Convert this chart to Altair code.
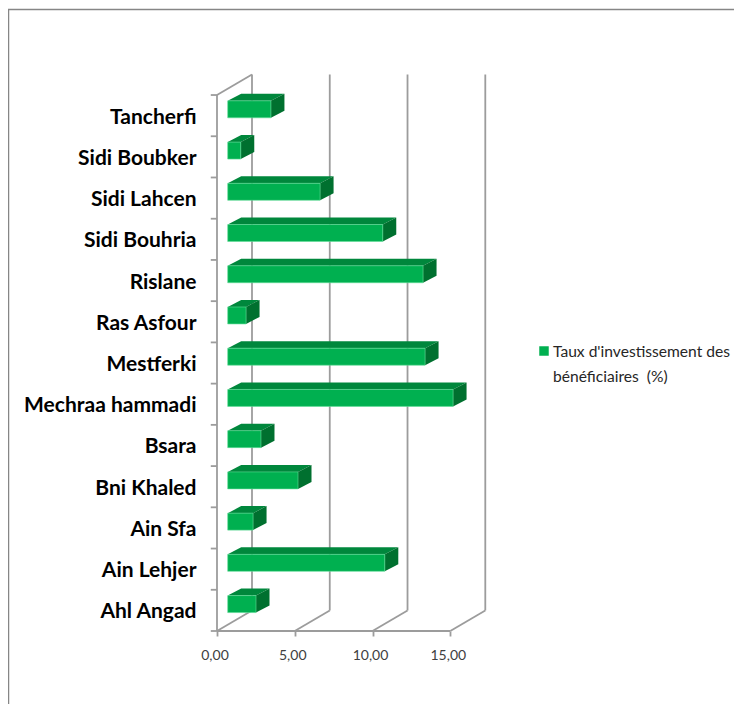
import altair as alt
import pandas as pd

names = ["Ahl Angad", "Ain Lehjer", "Ain Sfa", "Bni Khaled", "Bsara", "Mechraa hammadi", "Mestferki",
         "Ras Asfour", "Rislane", "Sidi Bouhria", "Sidi Lahcen", "Sidi Boubker", "Tancherfi"]
values = [1.82, 10.10, 1.63, 4.52, 2.14, 14.49, 12.69, 1.18, 12.56, 9.97, 5.94, 0.84, 2.78]
x_ticks = [0, 5, 10, 15]
series_name = "Taux d'investissement des\nbénéficiaires\u00a0 (%)"

# 3D projection constants, in data units
WALL_DX, WALL_DY = 2.25, 0.497      # depth of the chart box
BAR_START, BAR_LIFT = 0.688, 0.153  # where bars sit in the box
BAR_H = 0.412                       # bar front-face thickness
BAR_DX, BAR_DY = 0.868, 0.17        # depth of each bar
N = len(names)

X_SCALE = alt.Scale(domain=[0, 17.36], nice=False, zero=False)
Y_SCALE = alt.Scale(domain=[0, 13.51], nice=False, zero=False)
GRID = "#9C9C9C"
FRAME = "#868686"
GREEN = "#00B050"
LINE_W = 1.8

bars = pd.DataFrame({"name": names, "value": values, "row": range(N)})
bars["x0"] = BAR_START
bars["x1"] = BAR_START + bars["value"]
bars["y0"] = bars["row"] + 0.5 + BAR_LIFT - BAR_H / 2
bars["y1"] = bars["y0"] + BAR_H

top_rows, side_rows = [], []
for b in bars.itertuples():
    top_rows += [
        dict(row=b.row, y=b.y1, xa=b.x0, xb=b.x1),
        dict(row=b.row, y=b.y1 + BAR_DY, xa=b.x0 + BAR_DX, xb=b.x1 + BAR_DX),
    ]
    side_rows += [
        dict(row=b.row, x=b.x1, ya=b.y0, yb=b.y1),
        dict(row=b.row, x=b.x1 + BAR_DX, ya=b.y0 + BAR_DY, yb=b.y1 + BAR_DY),
    ]

wall = pd.DataFrame({"v": x_ticks})
wall["xb"] = wall["v"] + WALL_DX
wall["yb"] = WALL_DY
wall["yt"] = N + WALL_DY

floor_rows = []
for v in x_ticks:
    floor_rows += [dict(v=v, x=v, y=0), dict(v=v, x=v + WALL_DX, y=WALL_DY)]
floor_rows += [dict(v=-1, x=0, y=N), dict(v=-1, x=WALL_DX, y=N + WALL_DY)]

ticks_y = pd.DataFrame({"y": range(N + 1)})
ticks_y["x0"] = -0.4
ticks_y["x1"] = 0

label_array = "[" + ",".join("'" + n + "'" for n in names) + "]"
X_AXIS = alt.Axis(
    values=x_ticks, grid=False, labelExpr="replace(format(datum.value,'.2f'),'.',',')",
    labelFont="Lato", labelFontSize=14, labelColor="#404040", labelPadding=12, labelOffset=-2.5,
    labelFlush=False, tickColor=GRID, tickSize=5, tickWidth=LINE_W, domain=False)
Y_AXIS = alt.Axis(
    values=[i + 0.5 for i in range(N)], grid=False, ticks=False, domain=False,
    labelExpr=f"{label_array}[floor(datum.value)]", labelFont="Lato", labelFontSize=21,
    labelFontWeight="bold", labelColor="#000000", labelPadding=21, labelLimit=220,
    labelOffset=1.5, labelFlush=False)


def xq(field):
    return alt.X(f"{field}:Q", scale=X_SCALE, title=None, axis=X_AXIS)


def yq(field):
    return alt.Y(f"{field}:Q", scale=Y_SCALE, title=None, axis=Y_AXIS)


back_lines = alt.Chart(wall).mark_rule(color=GRID, strokeWidth=LINE_W).encode(
    x=xq("xb"), y=yq("yb"), y2="yt:Q")
diagonals = alt.Chart(pd.DataFrame(floor_rows)).mark_line(color=GRID, strokeWidth=LINE_W).encode(
    x=xq("x"), y=yq("y"), detail="v:N")
left_axis = alt.Chart(pd.DataFrame({"x": [0], "y0": [0], "y1": [N]})).mark_rule(color=GRID, strokeWidth=LINE_W).encode(
    x=xq("x"), y=yq("y0"), y2="y1:Q")
floor_front = alt.Chart(pd.DataFrame({"x0": [0], "x1": [max(x_ticks)], "y": [0]})).mark_rule(
    color=GRID, strokeWidth=LINE_W, clip=False).encode(x=xq("x0"), x2="x1:Q", y=yq("y"))
y_ticks = alt.Chart(ticks_y).mark_rule(color=GRID, strokeWidth=LINE_W, clip=False).encode(
    x=xq("x0"), x2="x1:Q", y=yq("y"))

top_faces = alt.Chart(pd.DataFrame(top_rows)).mark_area(orient="horizontal", color="#00873C").encode(
    y=yq("y"), x=xq("xa"), x2="xb:Q", detail="row:N")
side_faces = alt.Chart(pd.DataFrame(side_rows)).mark_area(orient="vertical", color="#00702F").encode(
    x=xq("x"), y=yq("ya"), y2="yb:Q", detail="row:N")
front_faces = alt.Chart(bars).mark_rect(stroke="#62DE98", strokeWidth=0.6, color=GREEN).encode(
    x=xq("x0"), x2="x1:Q", y=yq("y0"), y2="y1:Q",
)

legend_src = pd.DataFrame({"series": [series_name]})
legend_symbol = alt.Chart(legend_src).mark_square(color=GREEN, size=90, opacity=1, clip=False).encode(
    x=alt.value(327), y=alt.value(277))
legend_text = alt.Chart(legend_src).mark_text(
    align="left", baseline="middle", font="Lato", fontSize=15.6, color="#262626",
    lineBreak="\n", lineHeight=25, clip=False, limit=0,
).encode(x=alt.value(336), y=alt.value(278), text="series:N")

frame_top = alt.Chart(pd.DataFrame({"a": [0]})).mark_rule(color=FRAME, strokeWidth=1.5, clip=False).encode(
    x=alt.value(-209), x2=alt.value(525), y=alt.value(-64.5))
frame_left = alt.Chart(pd.DataFrame({"a": [0]})).mark_rule(color=FRAME, strokeWidth=1.5, clip=False).encode(
    x=alt.value(-208.5), y=alt.value(-65), y2=alt.value(640))

chart = alt.layer(
    back_lines, frame_top, frame_left, diagonals, left_axis, floor_front, y_ticks,
    top_faces, side_faces, front_faces, legend_symbol, legend_text,
).properties(
    width=270, height=557, autosize=alt.AutoSizeParams(type="none"),
    padding={"left": 209, "top": 66, "right": 247, "bottom": 73},
).configure_view(stroke=None)

chart.save("out.html", embed_options={"renderer": "svg", "actions": False})
